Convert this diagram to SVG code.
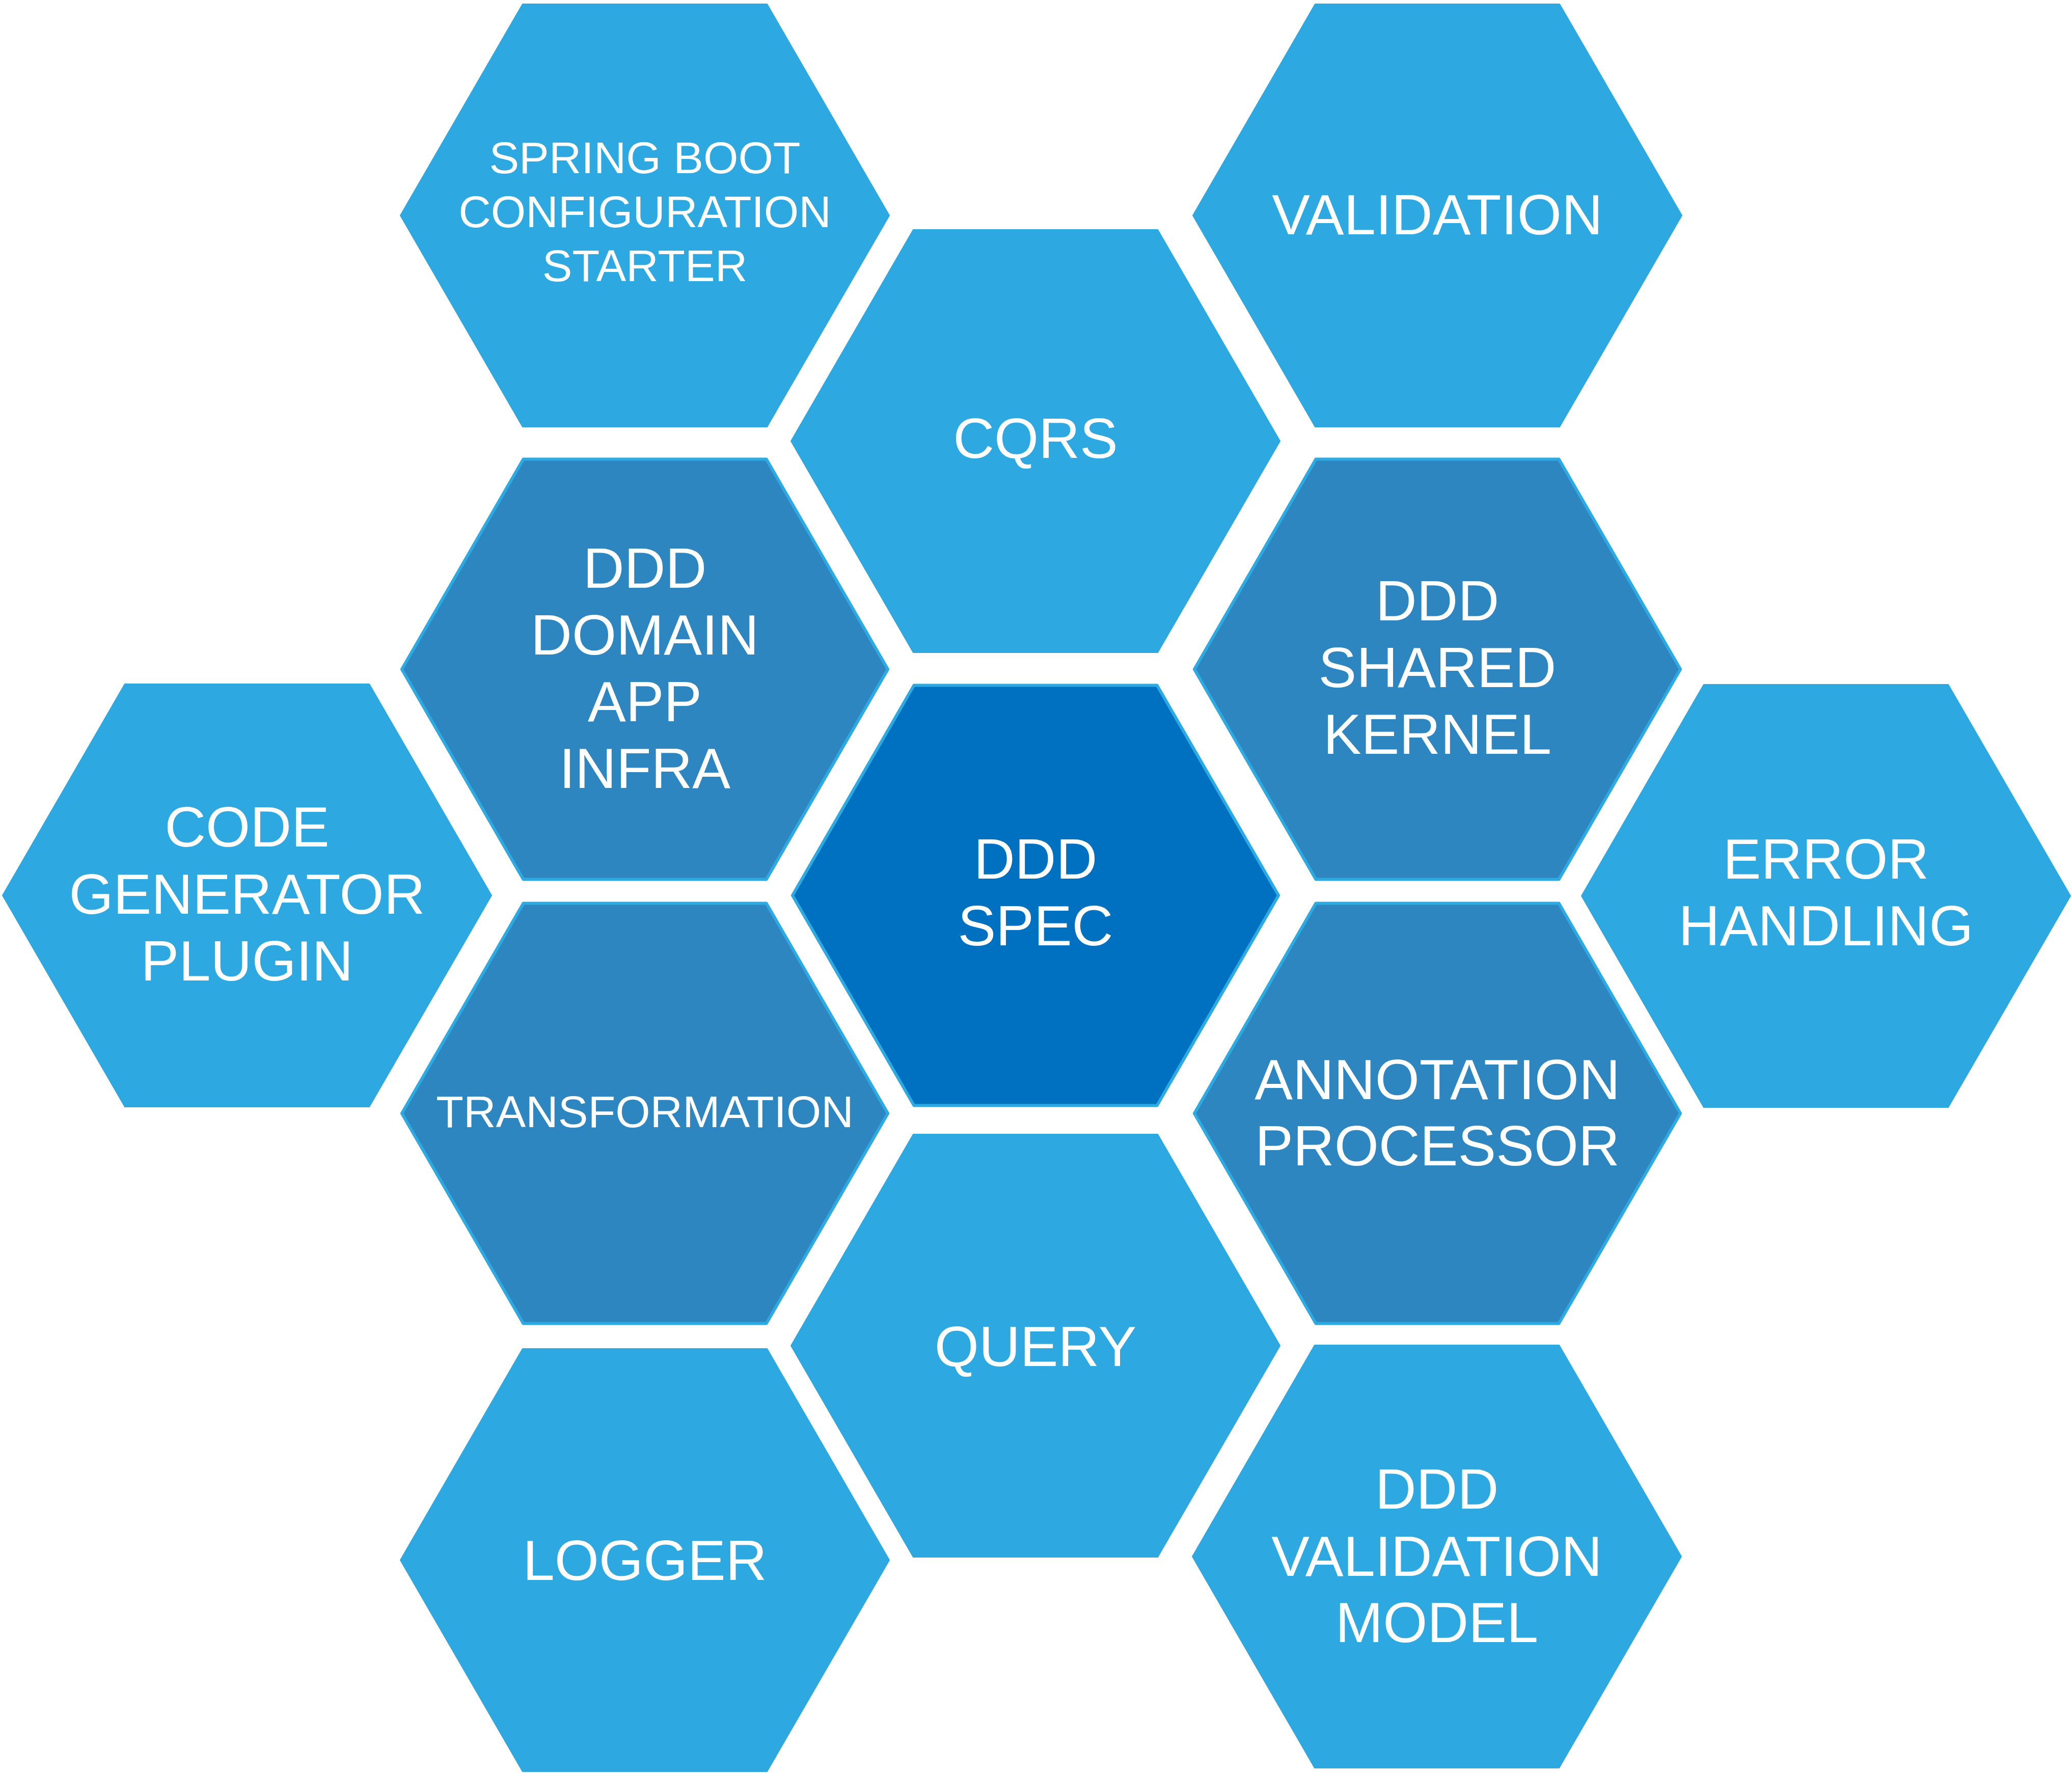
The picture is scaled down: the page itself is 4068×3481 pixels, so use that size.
<svg xmlns="http://www.w3.org/2000/svg" width="4068" height="3481" viewBox="0 0 4068 3481">
<defs>
<style>
.hex-light{fill:#2EA8E0;stroke:#2EA8E0;stroke-width:2;stroke-linejoin:round}
.hex-mid{fill:#2E86C1;stroke:#2EAAE2;stroke-width:6;stroke-linejoin:round}
.hex-core{fill:#0070C0;stroke:#2EAAE2;stroke-width:6;stroke-linejoin:round}
.lbl{font-family:"Liberation Sans",Arial,Helvetica,sans-serif;fill:#FFFFFF;text-anchor:middle;font-size:112px}
.lbl-s{font-family:"Liberation Sans",Arial,Helvetica,sans-serif;fill:#FFFFFF;text-anchor:middle;font-size:88px}
</style>
<polygon id="hx" points="-480,0 -240,-415 240,-415 480,0 240,415 -240,415"/>
</defs>
<rect x="0" y="0" width="4068" height="3481" fill="#FFFFFF"/>
<g id="connectors"></g>

<g id="spring-boot">
<use href="#hx" class="hex-light" transform="translate(1266,423)"/>
<text class="lbl-s" x="1266" y="340">SPRING BOOT</text>
<text class="lbl-s" x="1266" y="446">CONFIGURATION</text>
<text class="lbl-s" x="1266" y="552">STARTER</text>
</g>

<g id="validation">
<use href="#hx" class="hex-light" transform="translate(2822,423)"/>
<text class="lbl" x="2822" y="460">VALIDATION</text>
</g>

<g id="cqrs">
<use href="#hx" class="hex-light" transform="translate(2033,866)"/>
<text class="lbl" x="2033" y="899">CQRS</text>
</g>

<g id="ddd-domain">
<use href="#hx" class="hex-mid" transform="translate(1266,1314) scale(0.994)"/>
<text class="lbl" x="1266" y="1154">DDD</text>
<text class="lbl" x="1266" y="1285">DOMAIN</text>
<text class="lbl" x="1266" y="1416">APP</text>
<text class="lbl" x="1266" y="1547">INFRA</text>
</g>

<g id="ddd-shared-kernel">
<use href="#hx" class="hex-mid" transform="translate(2822,1314) scale(0.994)"/>
<text class="lbl" x="2822" y="1218">DDD</text>
<text class="lbl" x="2822" y="1349">SHARED</text>
<text class="lbl" x="2822" y="1480">KERNEL</text>
</g>

<g id="code-generator">
<use href="#hx" class="hex-light" transform="translate(485,1758)"/>
<text class="lbl" x="485" y="1662">CODE</text>
<text class="lbl" x="485" y="1794">GENERATOR</text>
<text class="lbl" x="485" y="1925">PLUGIN</text>
</g>

<g id="ddd-spec">
<use href="#hx" class="hex-core" transform="translate(2033,1758) scale(0.994)"/>
<text class="lbl" x="2033" y="1725">DDD</text>
<text class="lbl" x="2033" y="1856">SPEC</text>
</g>

<g id="error-handling">
<use href="#hx" class="hex-light" transform="translate(3585,1759)"/>
<text class="lbl" x="3585" y="1725">ERROR</text>
<text class="lbl" x="3585" y="1856">HANDLING</text>
</g>

<g id="transformation">
<use href="#hx" class="hex-mid" transform="translate(1266,2186) scale(0.994)"/>
<text class="lbl-s" x="1266" y="2213">TRANSFORMATION</text>
</g>

<g id="annotation-processor">
<use href="#hx" class="hex-mid" transform="translate(2822,2186) scale(0.994)"/>
<text class="lbl" x="2822" y="2158">ANNOTATION</text>
<text class="lbl" x="2822" y="2288">PROCESSOR</text>
</g>

<g id="query">
<use href="#hx" class="hex-light" transform="translate(2033,2642)"/>
<text class="lbl" x="2033" y="2682">QUERY</text>
</g>

<g id="logger">
<use href="#hx" class="hex-light" transform="translate(1266,3063)"/>
<text class="lbl" x="1266" y="3102">LOGGER</text>
</g>

<g id="ddd-validation-model">
<use href="#hx" class="hex-light" transform="translate(2821,3056)"/>
<text class="lbl" x="2821" y="2962">DDD</text>
<text class="lbl" x="2821" y="3094">VALIDATION</text>
<text class="lbl" x="2821" y="3224">MODEL</text>
</g>
</svg>
